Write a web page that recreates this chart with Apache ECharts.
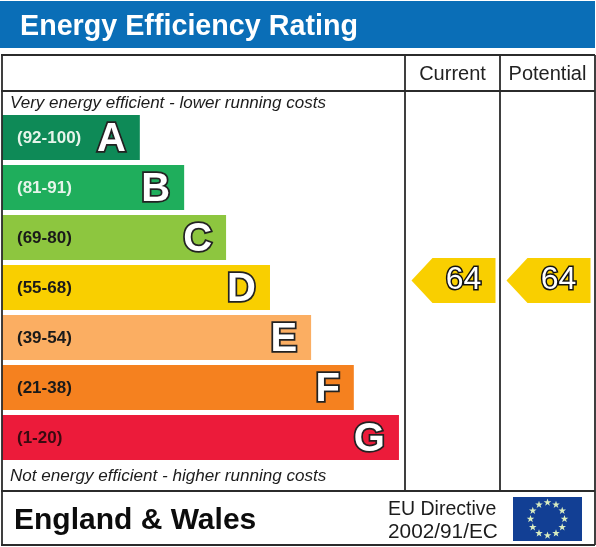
<!DOCTYPE html>
<html>
<head>
<meta charset="utf-8">
<title>Energy Efficiency Rating</title>
<style>
html,body{margin:0;padding:0;background:#fff}
#chart{width:596px;height:547px}
</style>
<script src="https://cdn.jsdelivr.net/npm/echarts@6/dist/echarts.min.js"></script>
</head>
<body>
<div id="chart"></div>
<script>
var letters=['A','B','C','D','E','F','G'];
var ranges=['(92-100)','(81-91)','(69-80)','(55-68)','(39-54)','(21-38)','(1-20)'];
// bar length as a percentage of the left panel
var barLengths=[34.2,45.2,55.6,66.5,76.7,87.3,98.5];
var barColors=['#0e8a57','#1fae5c','#8dc63f','#f9cf00','#fbae62','#f5811f','#ec1b3a'];
var rangeColors=['#e6f4ea','#e6f4ea','#1a1a1a','#1a1a1a','#1a1a1a','#1a1a1a','#3a0a10'];
var columns=['Current','Potential'];
var scores=[64,64];
var scoreBand=['D','D'];

var font='"Liberation Sans",Arial,sans-serif';
var myChart=echarts.init(document.getElementById('chart'),null,{renderer:'canvas'});

function frameLine(x1,y1,x2,y2){
	return {type:'line',shape:{x1:x1,y1:y1,x2:x2,y2:y2},style:{stroke:'#2b2b2b',lineWidth:1.8},z:20};
}
function label(text,x,y,size,extra){
	var st={text:text,x:x,y:y,fontFamily:font,fontSize:size,fill:'#1c1c1c',verticalAlign:'middle'};
	for(var k in extra){st[k]=extra[k]}
	return {type:'text',style:st,z:30};
}

var elements=[
	{type:'rect',shape:{x:0,y:1,width:595,height:47},style:{fill:'#0a6eb7'},z:1},
	label('Energy Efficiency Rating',20,27,28.7,{fill:'#fff',fontWeight:'bold'}),
	frameLine(1,55,595,55),
	frameLine(1,91,595,91),
	frameLine(1,491,595,491),
	frameLine(1,545,595,545),
	frameLine(2,55,2,545),
	frameLine(595,55,595,545),
	frameLine(405,55,405,491),
	frameLine(500,55,500,491),
	label('Very energy efficient - lower running costs',10,103,17,{fontStyle:'italic'}),
	label('Not energy efficient - higher running costs',10,476,17.1,{fontStyle:'italic'}),
	label('England & Wales',14,521,30,{fontWeight:'bold',fill:'#0c0c0c'}),
	label('EU Directive',388,510,19.5),
	label('2002/91/EC',388,532,20.8),
	{type:'rect',shape:{x:513,y:497,width:69,height:44},style:{fill:'#123f94'},z:21}
];
// twelve stars of the flag
for(var i=0;i<12;i++){
	var a=i*Math.PI/6,pts=[];
	for(var j=0;j<10;j++){
		var r=j%2?1.6:4,b=j*Math.PI/5;
		pts.push([547.5+17*Math.sin(a)+r*Math.sin(b),519-16.5*Math.cos(a)-r*Math.cos(b)]);
	}
	elements.push({type:'polygon',shape:{points:pts},style:{fill:'#d9edc0'},z:22});
}

var barData=[],letterData=[];
for(var n=0;n<letters.length;n++){
	barData.push({value:barLengths[n],itemStyle:{color:barColors[n]},label:{color:rangeColors[n]}});
	letterData.push(barLengths[n]);
}
var pointerData=[];
for(var p=0;p<columns.length;p++){
	pointerData.push({value:[columns[p],scoreBand[p],scores[p]]});
}

var option={
	animation:false,
	backgroundColor:'#fff',
	graphic:{elements:elements},
	grid:[
		{left:2,top:112.5,width:403,height:350},
		{left:405,top:112.5,width:190,height:350}
	],
	xAxis:[
		{gridIndex:0,type:'value',min:0,max:100,show:false},
		{gridIndex:1,type:'category',data:columns,position:'top',
			axisLine:{show:false},axisTick:{show:false},
			axisLabel:{interval:0,hideOverlap:false,fontFamily:font,fontSize:20,color:'#222',margin:38,verticalAlign:'middle'}}
	],
	yAxis:[
		{gridIndex:0,type:'category',inverse:true,data:letters,show:false},
		{gridIndex:1,type:'category',inverse:true,data:letters,show:false}
	],
	series:[
		{
			type:'bar',
			name:'range',
			xAxisIndex:0,yAxisIndex:0,
			barWidth:45,
			data:barData,
			label:{
				show:true,position:'insideLeft',distance:15,offset:[0,1],
				fontFamily:font,fontSize:17,fontWeight:'bold',
				formatter:function(o){return ranges[o.dataIndex]},
				color:'#1a1a1a'
			},
			z:2
		},
		{
			type:'bar',
			name:'letter',
			xAxisIndex:0,yAxisIndex:0,
			barWidth:45,
			barGap:'-100%',
			itemStyle:{color:'transparent'},
			data:letterData,
			label:{
				show:true,position:'insideRight',distance:14,offset:[0,2],
				fontFamily:font,fontSize:40,fontWeight:'bold',
				formatter:function(o){return letters[o.dataIndex]},
				color:'#fff',textBorderColor:'#222',textBorderWidth:3.5
			},
			z:3
		},
		{
			type:'scatter',
			name:'score',
			xAxisIndex:1,yAxisIndex:1,
			symbol:'path://M0 50L25 0L100 0L100 100L25 100Z',
			symbolSize:[84,45],
			symbolOffset:[1,-7],
			itemStyle:{color:'#f9cf00',opacity:1},
			encode:{x:0,y:1},
			data:pointerData,
			label:{
				show:true,position:'inside',offset:[10,0],
				fontFamily:font,fontSize:32,
				formatter:function(o){return o.value[2]},
				color:'#fff',textBorderColor:'#111',textBorderWidth:3
			},
			z:3
		}
	]
};
myChart.setOption(option);
</script>
</body>
</html>
